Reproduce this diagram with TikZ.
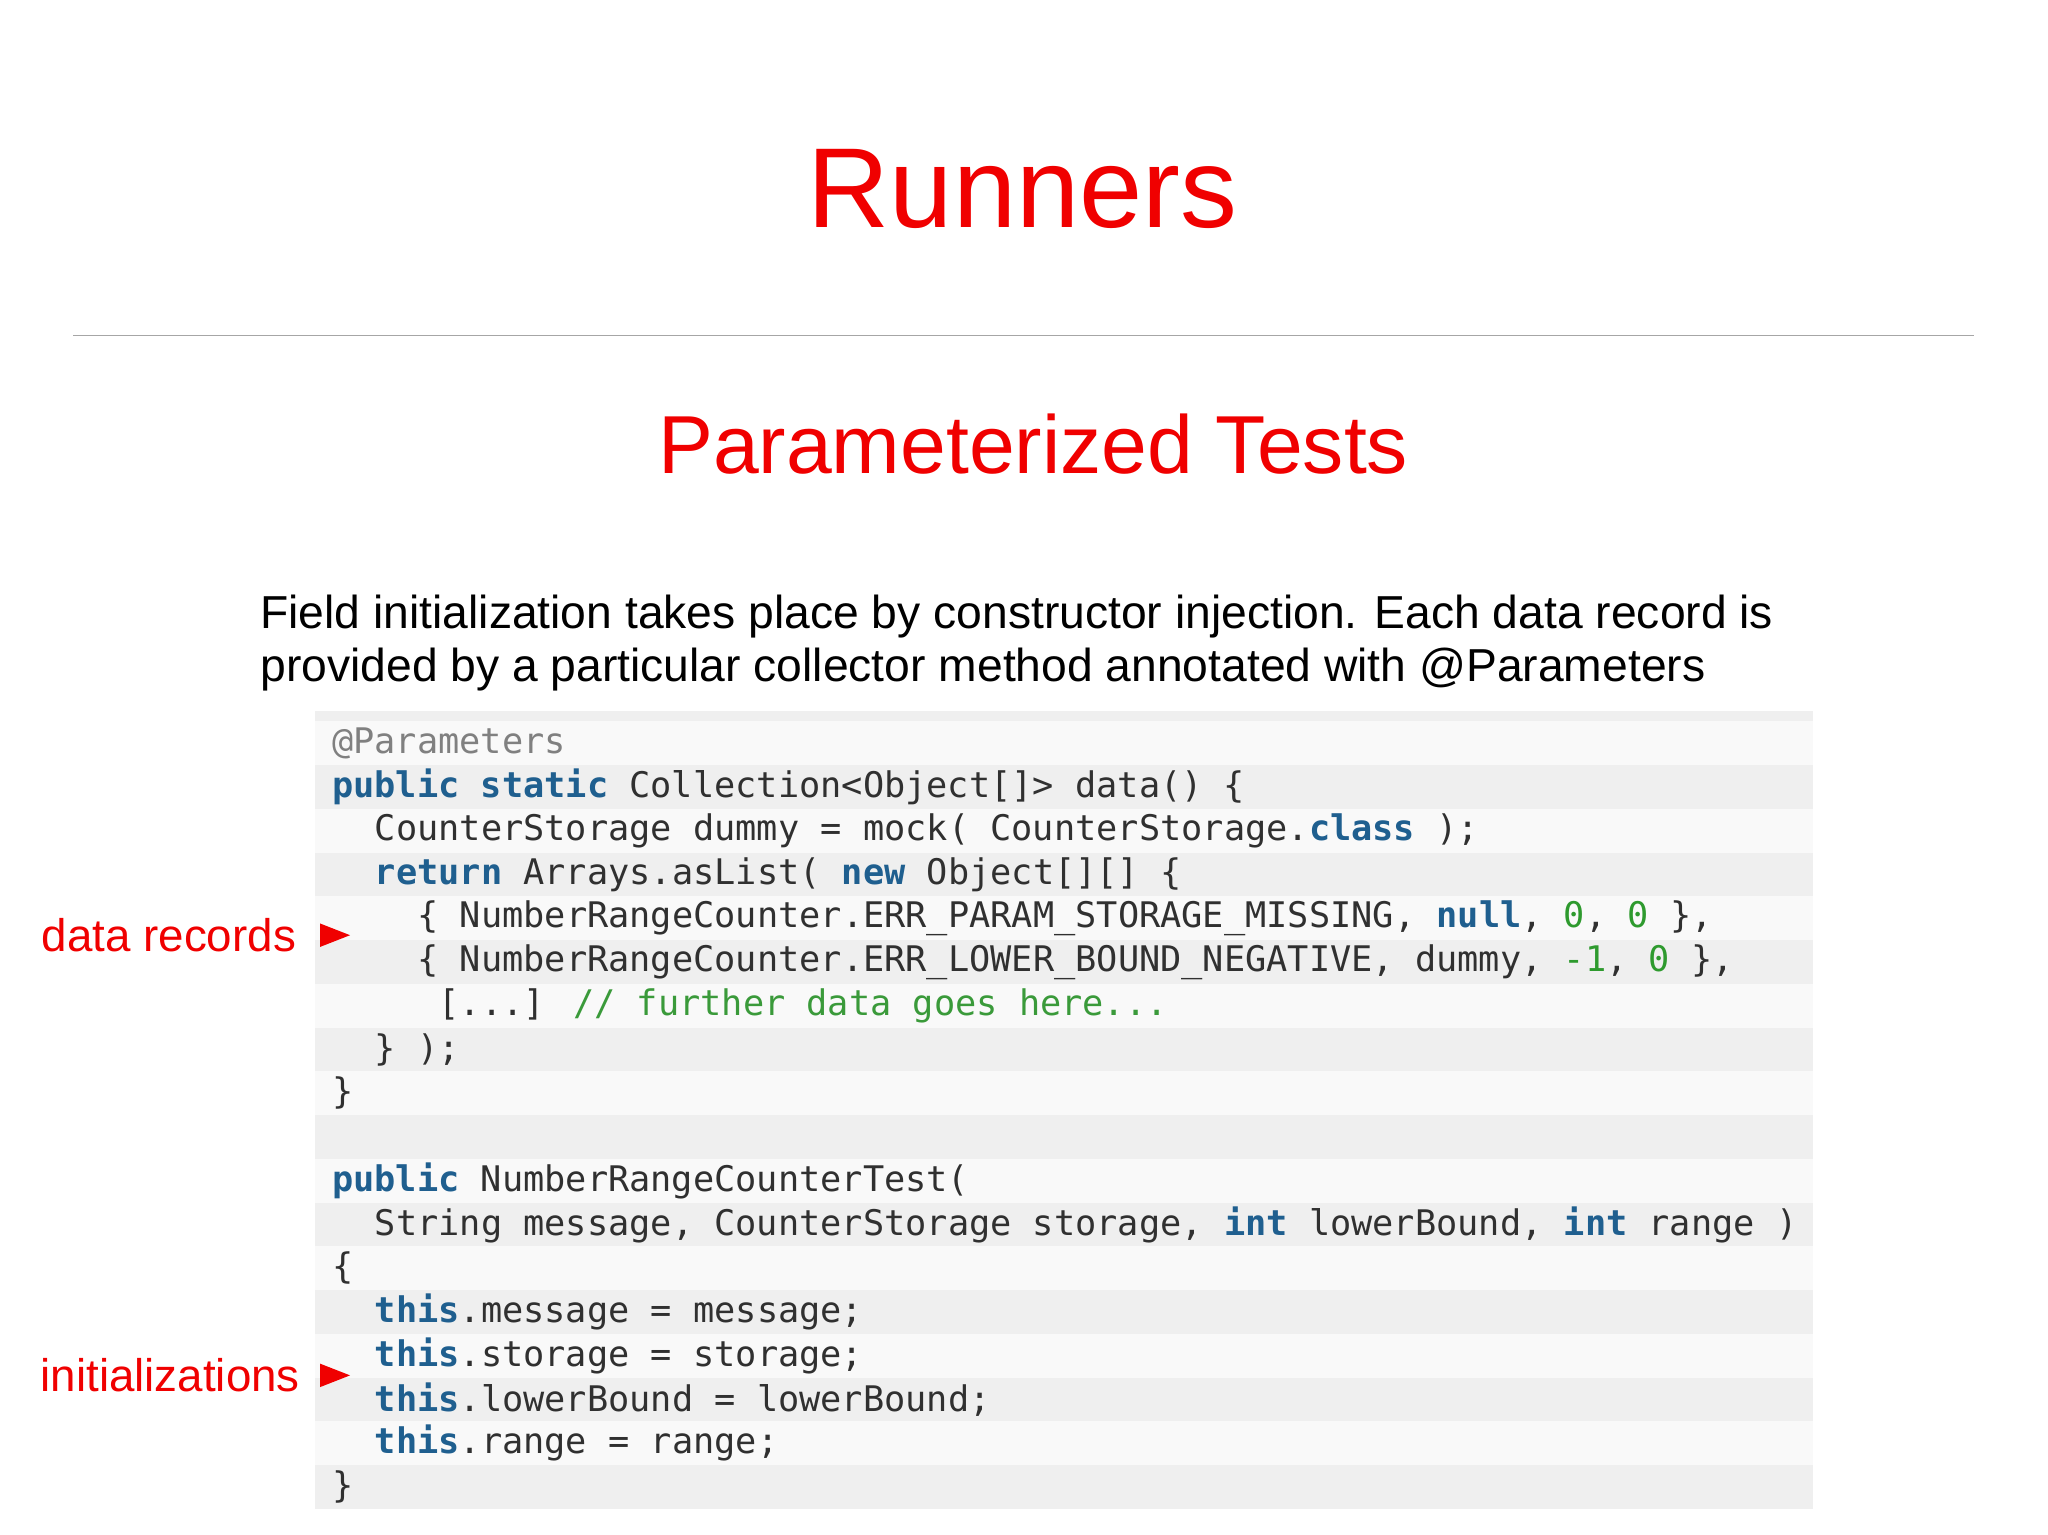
\documentclass[tikz,border=0pt]{standalone}
\usepackage{fontspec}
\setmainfont{Liberation Sans}
\newfontfamily\codefont{DejaVu Sans Mono}
\definecolor{tred}{HTML}{F00000}
\definecolor{kw}{HTML}{1F5F8F}
\definecolor{num}{HTML}{2E9A2E}
\definecolor{cmt}{HTML}{3A9A3A}
\definecolor{ann}{HTML}{808080}
\definecolor{ctext}{HTML}{303030}
\definecolor{rowa}{HTML}{EFEFEF}
\definecolor{rowb}{HTML}{F9F9F9}
\newcommand{\kwd}[1]{{\bfseries\color{kw}#1}}
\newcommand{\nm}[1]{{\color{num}#1}}
\tikzset{
 code/.style={anchor=west,inner sep=0pt,text=ctext,font=\codefont\fontsize{13.5}{16}\selectfont},
 lbl/.style={anchor=east,inner sep=0pt,text=tred,font=\fontsize{17.5}{20}\selectfont},
 tri/.style={fill=tred,draw=none}
}
\begin{document}
\begin{tikzpicture}[x=0.5pt,y=-0.5pt]
\useasboundingbox[fill=white] (0,0) rectangle (1568,1175);
\node[text=tred,font=\fontsize{43.5}{48}\selectfont] (title) at (783,145) {Runners};
\draw[draw=gray!70,line width=0.6pt] (56,257) coordinate (l1) -- (1511,257) coordinate (l2);
\node[text=tred,font=\fontsize{31.5}{36}\selectfont] (sub) at (791,340) {Parameterized Tests};
\node[anchor=north west,inner sep=0pt,align=left,font=\fontsize{17.7}{20.2}\selectfont] (body) at (199,455)
 {Field initialization takes place by constructor injection. Each data record is\\provided by a particular collector method annotated with @Parameters};
% stripes
\fill[rowa] (241,544) rectangle (1388,552);
\foreach \i in {0,...,17}{
  \pgfmathsetmacro{\yc}{569+33.5*\i}
  \pgfmathtruncatemacro{\odd}{mod(\i,2)}
  \ifnum\odd=1 \fill[rowa] (241,\yc-16.75) rectangle (1388,\yc+16.75);
  \else \fill[rowb] (241,\yc-16.75) rectangle (1388,\yc+16.75); \fi
}
\def\cx{254}\def\cw{16.3}
\node[code,text=ann] (c0) at (\cx,569) {@Parameters};
\node[code] (c1) at (\cx,602.5) {\kwd{public} \kwd{static} Collection<Object[]> data() \{};
\node[code] (c2) at (\cx+2*\cw,636) {CounterStorage dummy = mock( CounterStorage.\kwd{class} );};
\node[code] (c3) at (\cx+2*\cw,669.5) {\kwd{return} Arrays.asList( \kwd{new} Object[][] \{};
\node[code] (c4) at (\cx+4*\cw,703) {\{ NumberRangeCounter.ERR\_PARAM\_STORAGE\_MISSING, \kwd{null}, \nm{0}, \nm{0} \},};
\node[code] (c5) at (\cx+4*\cw,736.5) {\{ NumberRangeCounter.ERR\_LOWER\_BOUND\_NEGATIVE, dummy, \nm{-1}, \nm{0} \},};
\node[code] (c6) at (\cx+5*\cw,770) {[...] {\color{cmt}// further data goes here...}};
\node[code] (c7) at (\cx+2*\cw,803.5) {\} );};
\node[code] (c8) at (\cx,837) {\}};
\node[code] (c10) at (\cx,904) {\kwd{public} NumberRangeCounterTest(};
\node[code] (c11) at (\cx+2*\cw,937.5) {String message, CounterStorage storage, \kwd{int} lowerBound, \kwd{int} range )};
\node[code] (c12) at (\cx,971) {\{};
\node[code] (c13) at (\cx+2*\cw,1004.5) {\kwd{this}.message = message;};
\node[code] (c14) at (\cx+2*\cw,1038) {\kwd{this}.storage = storage;};
\node[code] (c15) at (\cx+2*\cw,1071.5) {\kwd{this}.lowerBound = lowerBound;};
\node[code] (c16) at (\cx+2*\cw,1105) {\kwd{this}.range = range;};
\node[code] (c17) at (\cx,1138.5) {\}};
\node[lbl] (dr) at (227,716) {data records};
\fill[tri] (245,707) -- (245,725) -- (268,716) -- cycle;
\node[lbl] (in) at (230,1053) {initializations};
\fill[tri] (245,1044) -- (245,1062) -- (268,1053) -- cycle;
\end{tikzpicture}
\end{document}
